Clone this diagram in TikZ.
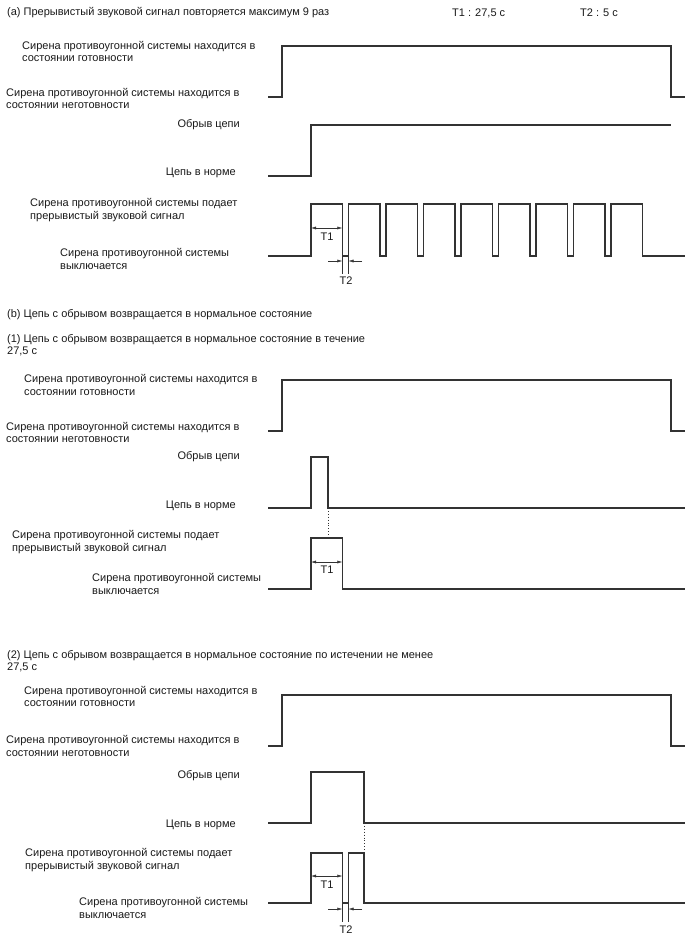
\documentclass[tikz,border=0pt]{standalone}
\usepackage{fontspec}
\setmainfont{Liberation Sans}
\usetikzlibrary{arrows.meta}
\definecolor{wire}{HTML}{333333}
\definecolor{inktext}{HTML}{1A1A1A}

\begin{document}
\begin{tikzpicture}[x=1pt,y=-1pt,every node/.style={font=\fontsize{11}{12.6}\selectfont,inner sep=0pt,text=inktext},lbl/.style={align=left,anchor=west},lblr/.style={anchor=east},wave/.style={draw=wire,line width=1.2pt,line join=miter},dim/.style={{Latex[length=5pt,width=3pt]}-{Latex[length=5pt,width=3pt]},draw=wire,line width=0.5pt},tip/.style={-{Latex[length=5pt,width=3pt]},draw=wire,line width=0.5pt},guide/.style={draw=wire,line width=0.5pt},dots/.style={draw=wire,line width=0.9pt,dotted}]
\useasboundingbox[fill=white] (0,0) rectangle (688,949);
% (a) headings
\node[lbl] (titleA) at (7,13) {(a) Прерывистый звуковой сигнал повторяется максимум 9 раз};
\node[lbl] (noteT1) at (452,13) {T1 : 27,5 с};
\node[lbl] (noteT2) at (580,13) {T2 : 5 с};
\node[lbl] (a-ready) at (22,51.5) {Сирена противоугонной системы находится в\\состоянии готовности};
\node[lbl] (a-unready) at (6,98.5) {Сирена противоугонной системы находится в\\состоянии неготовности};
\node[lblr] (a-open) at (240,125) {Обрыв цепи};
\node[lblr] (a-norm) at (236,173) {Цепь в норме};
\node[lbl] (a-beep) at (30,210) {Сирена противоугонной системы подает\\прерывистый звуковой сигнал};
\node[lbl] (a-off) at (60,259) {Сирена противоугонной системы\\выключается};
% (a) waveforms
\draw[wave] (268,97) -- (282,97) -- (282,46) -- (671,46) -- (671,97) -- (685,97);
\draw[wave] (268,176) -- (311,176) -- (311,125) -- (671,125);
\draw[wave] (268,256) foreach \k in {0,...,8}{ -- ({311+37.5*\k},256) -- ({311+37.5*\k},204) -- ({342.4+37.5*\k},204) -- ({342.4+37.5*\k},256)} -- (685,256);
% (a) T1 / T2
\coordinate (a-t1l) at (311,228);\coordinate (a-t1r) at (342.4,228);
\draw[dim] (a-t1l) -- (a-t1r);
\node (a-t1) at (327,237) {T1};
\coordinate (a-e1) at (342.4,256);\coordinate (a-e1b) at (342.4,274);
\coordinate (a-e2) at (348.5,256);\coordinate (a-e2b) at (348.5,274);
\draw[guide] (a-e1) -- (a-e1b);\draw[guide] (a-e2) -- (a-e2b);
\coordinate (a-t2l) at (328,261);\coordinate (a-t2r) at (362,261);
\draw[tip] (a-t2l) -- (a-e1 |- a-t2l);\draw[tip] (a-t2r) -- (a-e2 |- a-t2r);
\node (a-t2) at (346,281) {T2};
% (b) headings
\node[lbl] (titleB) at (7,315) {(b) Цепь с обрывом возвращается в нормальное состояние};
\node[lbl] (titleB1) at (7,345) {(1) Цепь с обрывом возвращается в нормальное состояние в течение\\27,5 с};
\node[lbl] (b1-ready) at (24,385) {Сирена противоугонной системы находится в\\состоянии готовности};
\node[lbl] (b1-unready) at (6,432.5) {Сирена противоугонной системы находится в\\состоянии неготовности};
\node[lblr] (b1-open) at (240,457) {Обрыв цепи};
\node[lblr] (b1-norm) at (236,506) {Цепь в норме};
\node[lbl] (b1-beep) at (12,542) {Сирена противоугонной системы подает\\прерывистый звуковой сигнал};
\node[lbl] (b1-off) at (92,584) {Сирена противоугонной системы\\выключается};
% (b1) waveforms
\draw[wave] (268,431) -- (282,431) -- (282,380) -- (671,380) -- (671,431) -- (685,431);
\draw[wave] (268,508) -- (311,508) -- (311,457) -- (328,457) -- (328,508) -- (685,508);
\draw[wave] (268,589) -- (311,589) -- (311,538) -- (342.4,538) -- (342.4,589) -- (685,589);
\coordinate (b1-back) at (328,508);\coordinate (b1-top) at (328,538);
\draw[dots] (b1-back) -- (b1-top);
\coordinate (b1-t1l) at (311,562);\coordinate (b1-t1r) at (342.4,562);
\draw[dim] (b1-t1l) -- (b1-t1r);
\node (b1-t1) at (327,570) {T1};
% (b2) headings
\node[lbl] (titleB2) at (7,661) {(2) Цепь с обрывом возвращается в нормальное состояние по истечении не менее\\27,5 с};
\node[lbl] (b2-ready) at (24,696.5) {Сирена противоугонной системы находится в\\состоянии готовности};
\node[lbl] (b2-unready) at (6,746) {Сирена противоугонной системы находится в\\состоянии неготовности};
\node[lblr] (b2-open) at (240,776) {Обрыв цепи};
\node[lblr] (b2-norm) at (236,825) {Цепь в норме};
\node[lbl] (b2-beep) at (25,860) {Сирена противоугонной системы подает\\прерывистый звуковой сигнал};
\node[lbl] (b2-off) at (79,908) {Сирена противоугонной системы\\выключается};
% (b2) waveforms
\draw[wave] (268,746) -- (282,746) -- (282,695) -- (671,695) -- (671,746) -- (685,746);
\draw[wave] (268,823) -- (311,823) -- (311,772) -- (364,772) -- (364,823) -- (685,823);
\draw[wave] (268,903) -- (311,903) -- (311,853) -- (342.4,853) -- (342.4,903) -- (348.5,903) -- (348.5,853) -- (364,853) -- (364,903) -- (685,903);
\coordinate (b2-back) at (364,823);\coordinate (b2-top) at (364,853);
\draw[dots] (b2-back) -- (b2-top);
\coordinate (b2-t1l) at (311,876);\coordinate (b2-t1r) at (342.4,876);
\draw[dim] (b2-t1l) -- (b2-t1r);
\node (b2-t1) at (327,885) {T1};
\coordinate (b2-e1) at (342.4,903);\coordinate (b2-e1b) at (342.4,922);
\coordinate (b2-e2) at (348.5,903);\coordinate (b2-e2b) at (348.5,922);
\draw[guide] (b2-e1) -- (b2-e1b);\draw[guide] (b2-e2) -- (b2-e2b);
\coordinate (b2-t2l) at (328,909);\coordinate (b2-t2r) at (362,909);
\draw[tip] (b2-t2l) -- (b2-e1 |- b2-t2l);\draw[tip] (b2-t2r) -- (b2-e2 |- b2-t2r);
\node (b2-t2) at (346,930) {T2};
\end{tikzpicture}
\end{document}
